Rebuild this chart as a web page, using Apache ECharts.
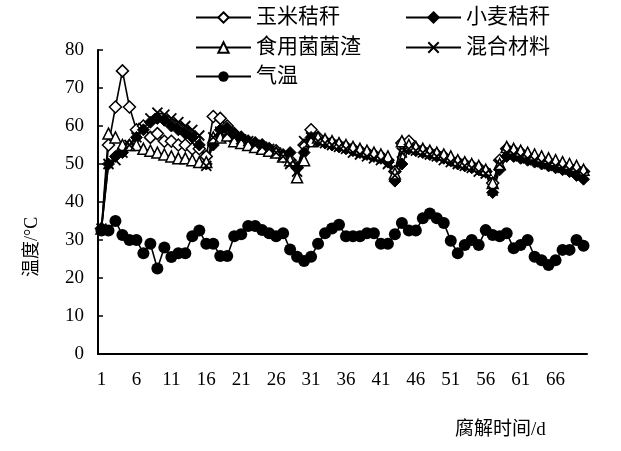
<!DOCTYPE html>
<html><head><meta charset="utf-8">
<script src="https://cdn.jsdelivr.net/npm/echarts@6/dist/echarts.min.js"></script>
<style>html,body{margin:0;padding:0;background:#fff}#c{width:621px;height:451px}</style>
</head><body><div id="c"></div>
<script>
const days = Array.from({length: 70}, (_, i) => String(i + 1));
const corn = [33,55,65,74.5,65,59,60,57,58,56,56,55,55,54,54,52,62.5,62,60,58,57,56,55.5,55,54,53.5,52,51,49,55,59,57,56,55.5,55,54.5,54,53.5,53,52.5,52,51,48,55.5,56,54,53.5,53,52.5,52,51,50.5,50,49.5,49,48,45,51,54,53.5,53,52,51.5,51,50.5,50,49.5,49,48.5,48];
const wheat = [33,50,52,53,55,57,59,61,62,61.5,60,59,58,57,55,50,55,59,59.5,58,57,56,55.5,55,54,53,52.5,53,49,53,57,56,55.5,55,54.5,54,53.5,53,52.5,52,51.5,50.5,45.5,50,54,53.5,53,52.5,52,51.5,51,50,49.5,49,48.5,48,42.5,48.5,52,52,51.5,51,50.5,50,49.5,49,48.5,48,47,46];
const mushroom = [33,58,57,55,55,55,54,53.5,53,52.5,52,51.5,51.5,51,50.5,50.5,57,57,57.5,56,55.5,55,54.5,54,53.5,53,52,51,46.5,51,56,57,56.5,56,55.5,55,54.5,54,53.5,53,52.5,52,47.5,56,55,54.5,54,53.5,53,52.5,52,51,50.5,50,49.5,48.5,45,50,54.5,54,53.5,53,52.5,52,51.5,51,50.5,50,49.5,48.5];
const mixed = [33,50,51,53,55,57,59.5,62,63.5,63,62,61,60,59,57.5,49.5,57,58.5,58,57,56.5,56,55,54.5,54,53,52,50,48,56,57,56,55.5,55,54.5,54,53,52.5,52,51.5,51,50,47,53,54,53.5,53,52.5,52,51,50.5,50,49.5,49,48,47.5,43,50,53,52.5,52,51.5,51,50.5,50,49.5,49,48.5,48,47];
const airTemp = [32.5,32.5,35,31.3,30,30,26.5,29,22.5,28,25.5,26.5,26.5,31,32.5,29,29,25.8,25.8,31,31.5,33.7,33.7,32.6,31.8,31,31.8,27.5,25.6,24.5,25.6,29,31.8,33,34,31,31,31,31.8,31.8,29,29,31.5,34.5,32.5,32.5,35.7,37,35.7,34.5,29.8,26.5,28.7,30,28.7,32.6,31.3,31,31.8,27.8,28.7,30,25.6,24.7,23.4,24.7,27.4,27.4,30,28.5];
const seriesNames = ['玉米秸秆','小麦秸秆','食用菌菌渣','混合材料','气温'];
const yTicks = {min: 0, max: 80, interval: 10};

const FONT = '"Liberation Serif", "Noto Sans CJK SC", serif';
const chart = echarts.init(document.getElementById('c'), null, {renderer: 'canvas'});
const xPath = 'path://M0,0L10,10M10,0L0,10';
function mk(name, data, symbol, size, fill, bw) {
  return {
    name, type: 'line', data, symbol, symbolSize: size, showAllSymbol: true,
    lineStyle: {color: '#000', width: 1.6},
    itemStyle: {color: fill, borderColor: '#000', borderWidth: bw},
    emphasis: {disabled: true}
  };
}
const legendBase = {itemWidth: 55, itemHeight: 13, itemGap: 0, padding: 0,
  textStyle: {fontFamily: FONT, fontSize: 21, color: '#000'}};
chart.setOption({
  animation: false,
  grid: {left: 98, right: 34, top: 50, bottom: 97},
  legend: [
    Object.assign({data: [seriesNames[0]], left: 195, top: 7}, legendBase),
    Object.assign({data: [seriesNames[1]], left: 405, top: 7}, legendBase),
    Object.assign({data: [seriesNames[2]], left: 195, top: 37}, legendBase),
    Object.assign({data: [seriesNames[3]], left: 405, top: 37}, legendBase),
    Object.assign({data: [seriesNames[4]], left: 195, top: 66}, legendBase)
  ],
  xAxis: {
    type: 'category', data: days, boundaryGap: true,
    axisLine: {lineStyle: {color: '#000', width: 2}},
    axisTick: {inside: true, interval: 0, length: 5, lineStyle: {color: '#000', width: 1.5}},
    axisLabel: {interval: 4, color: '#000', fontFamily: FONT, fontSize: 19, margin: 17},
    splitLine: {show: false}
  },
  yAxis: {
    type: 'value', min: yTicks.min, max: yTicks.max, interval: yTicks.interval,
    axisLine: {show: true, lineStyle: {color: '#000', width: 2}},
    axisTick: {show: true, inside: true, length: 5, lineStyle: {color: '#000', width: 1.5}},
    axisLabel: {color: '#000', fontFamily: FONT, fontSize: 19, margin: 14},
    splitLine: {show: false}
  },
  graphic: [
    {type: 'text', rotation: Math.PI / 2, x: 23, y: 277,
     style: {text: '温度/°C', font: '18px ' + FONT, fill: '#000', textAlign: 'left', textVerticalAlign: 'top'}},
    {type: 'text', x: 455, y: 421,
     style: {text: '腐解时间/d', font: '19px ' + FONT, fill: '#000'}}
  ],
  series: [
    mk(seriesNames[0], corn, 'diamond', 12, '#fff', 1.5),
    mk(seriesNames[1], wheat, 'diamond', 12, '#000', 1),
    mk(seriesNames[2], mushroom, 'triangle', 11, '#fff', 1.5),
    mk(seriesNames[3], mixed, xPath, 10, '#000', 1.8),
    mk(seriesNames[4], airTemp, 'circle', 12, '#000', 0)
  ]
});
</script></body></html>
